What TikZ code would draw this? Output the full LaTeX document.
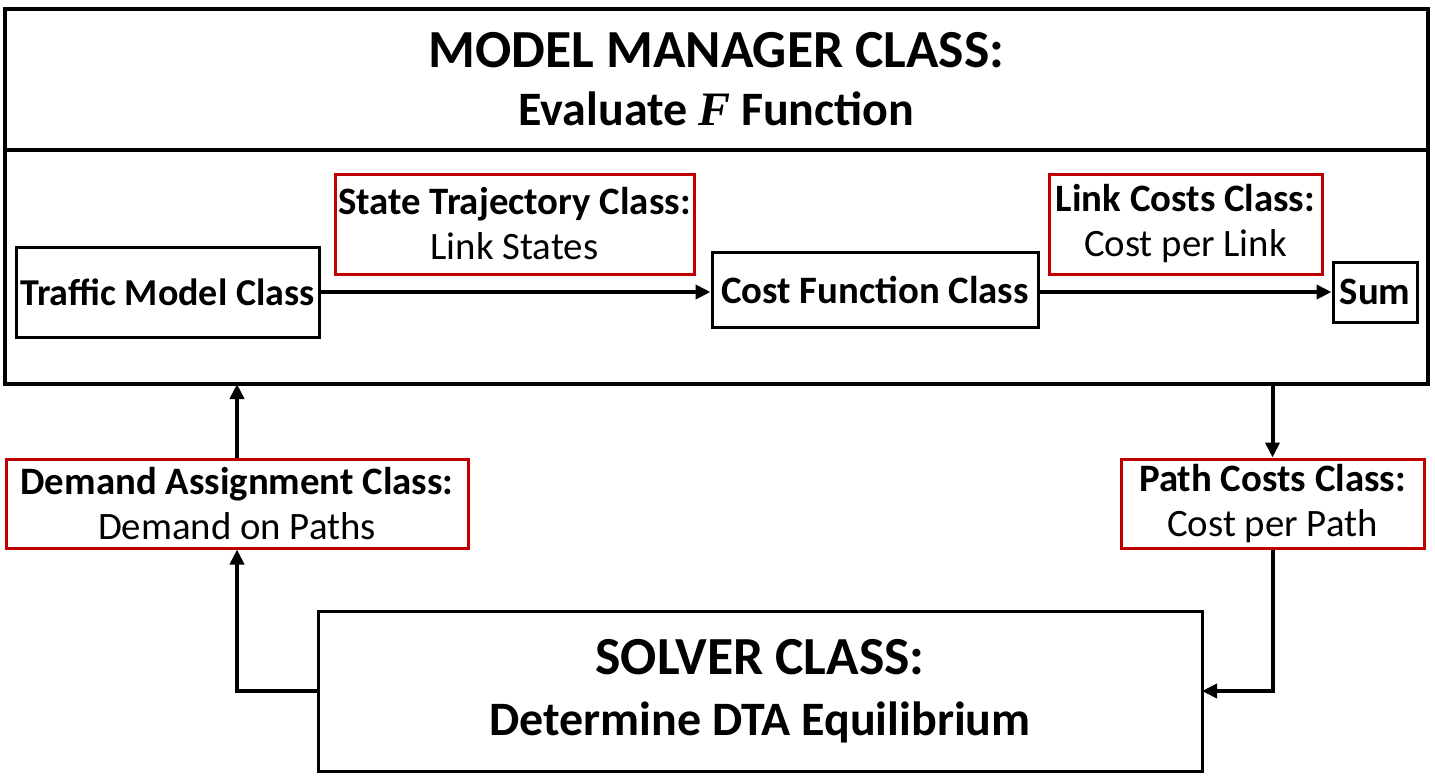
\documentclass[tikz,border=0pt]{standalone}
\usepackage{fontspec}
\setmainfont{Carlito}
\newfontfamily\mathlike{Liberation Serif}
\usetikzlibrary{positioning,arrows.meta,calc}
\definecolor{boxred}{RGB}{192,0,0}
\newcommand{\bighead}{\fontsize{26.8}{29}\selectfont}
\newcommand{\bigsub}{\fontsize{24}{29}\selectfont}

\begin{document}
\begin{tikzpicture}[
  x=0.5pt, y=-0.5pt,
  box/.style     = {draw, line width=1.5pt, inner sep=0pt,
                    align=center, font=\fontsize{19.4}{22.5}\selectfont},
  cls/.style     = {box, font=\fontsize{19.4}{22.5}\selectfont\bfseries},
  datbox/.style  = {box, draw=boxred},
  bigbox/.style  = {draw, line width=2pt, inner sep=0pt, outer sep=0pt,
                    align=center, font=\fontsize{25}{29}\selectfont\bfseries},
  arr/.style     = {-{Triangle[length=7.5pt,width=7pt]}, line width=2pt},
]
\useasboundingbox (0,0) rectangle (1435,778);
% manager box, head and body
\node[bigbox, minimum width=711.5pt, minimum height=70.5pt] (mgrhead)
     at (716.5,79.5) {{\bighead MODEL MANAGER CLASS:}\\
                      {\bigsub Evaluate {\mathlike\itshape F} Function}};
\node[bigbox, minimum width=711.5pt, minimum height=117pt,
      below=0pt of mgrhead] (mgrbody) {};
% inside the manager
\node[cls, minimum width=151.5pt, minimum height=45pt,
      font=\fontsize{19}{22.5}\selectfont\bfseries] (traffic)
     at (167.5,292) {Traffic Model Class};
\node[cls, minimum width=163pt, minimum height=37.5pt] (costfn)
     at (875,289.5) {Cost Function Class};
\node[cls, minimum width=42pt, minimum height=30pt] (sum)
     at (1375,292) {Sum};
\node[datbox, minimum width=179.5pt, minimum height=50pt] (traj)
     at (514.5,224) {\textbf{State Trajectory Class:}\\Link States};
\node[datbox, minimum width=136.5pt, minimum height=50pt] (linkc)
     at (1185.5,224) {\textbf{Link Costs Class:}\\Cost per Link};
\draw[arr] (traffic.east) -- (traffic.east -| costfn.west);
\draw[arr] (costfn.east |- sum.west) -- (sum.west);
% solver and data between
\node[bigbox, line width=1.5pt, minimum width=442pt, minimum height=80pt] (solver)
     at (760,691) {{\bighead SOLVER CLASS:}\\[1.5pt]
                   {\bigsub Determine DTA Equilibrium}};
\node[datbox, minimum width=231pt, minimum height=44.5pt] (demand)
     at (237,503.5) {\textbf{Demand Assignment Class:}\\Demand on Paths};
\node[datbox, minimum width=151.5pt, minimum height=44.5pt] (pathc)
     at (1272.5,503.5) {\textbf{Path Costs Class:}\\Cost per Path};
\draw[arr] (pathc.north |- mgrbody.south) -- (pathc.north);
\draw[arr] (pathc.south) |- (solver.east);
\draw[arr] (solver.west) -| (demand.south);
\draw[arr] (demand.north) -- (demand.north |- mgrbody.south);
\end{tikzpicture}
\end{document}
